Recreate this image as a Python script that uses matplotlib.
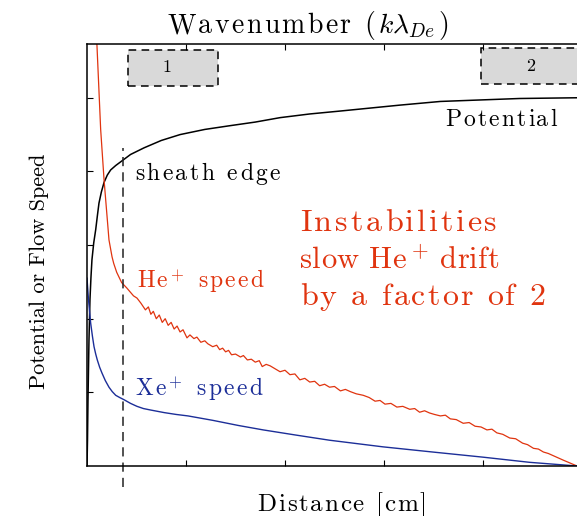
import matplotlib
matplotlib.use("Agg")
import matplotlib.pyplot as plt
from matplotlib.patches import Rectangle
from matplotlib.font_manager import findfont, FontProperties
from matplotlib.ft2font import FT2Font
from matplotlib.transforms import offset_copy

plt.rcParams['font.family'] = ['cmr10', 'DejaVu Serif']
plt.rcParams['mathtext.fontset'] = 'cm'
plt.rcParams['axes.formatter.use_mathtext'] = True

# distance (cm) vs potential
pot_x = [0.000, 0.005, 0.010, 0.020, 0.030, 0.040, 0.050, 0.068, 0.088, 0.105,
         0.121, 0.145, 0.172, 0.205, 0.239, 0.290, 0.340, 0.440, 0.576, 0.750,
         0.940, 1.190, 1.440, 1.700, 1.950, 2.250, 2.560, 2.860, 3.160, 3.570,
         3.970, 4.370, 4.950]
pot_y = [0.00, 0.35, 0.90, 1.71, 2.26, 2.56, 2.80, 3.03, 3.21, 3.40,
         3.57, 3.72, 3.85, 3.95, 4.02, 4.08, 4.13, 4.23, 4.32, 4.42,
         4.50, 4.57, 4.62, 4.67, 4.73, 4.78, 4.82, 4.86, 4.90, 4.95,
         4.97, 4.99, 5.00]

# Xe+ flow speed
xe_x = [0.000, 0.015, 0.037, 0.055, 0.071, 0.088, 0.104, 0.128, 0.152, 0.185,
        0.222, 0.255, 0.290, 0.330, 0.374, 0.440, 0.505, 0.570, 0.643, 0.780,
        0.900, 1.020, 1.270, 1.530, 1.780, 2.110, 2.450, 2.990, 3.490, 4.000,
        4.470, 4.950]
xe_y = [2.55, 2.26, 1.94, 1.76, 1.62, 1.52, 1.44, 1.34, 1.26, 1.16,
        1.07, 1.01, 0.96, 0.93, 0.90, 0.85, 0.81, 0.78, 0.76, 0.725,
        0.70, 0.68, 0.62, 0.55, 0.49, 0.42, 0.35, 0.26, 0.19, 0.12,
        0.05, 0.00]

# He+ flow speed (noisy)
he_x = [0.090, 0.100, 0.138, 0.172, 0.222, 0.253, 0.270, 0.300, 0.350, 0.400,
        0.470, 0.505, 0.545, 0.590, 0.620, 0.645, 0.670, 0.700, 0.730, 0.760,
        0.790, 0.820, 0.850, 0.880, 0.910, 0.940, 0.970, 1.010, 1.040, 1.080,
        1.110, 1.150, 1.190, 1.220, 1.270, 1.310, 1.340, 1.370, 1.400, 1.430,
        1.460, 1.500, 1.550, 1.580, 1.620, 1.660, 1.700, 1.740, 1.770, 1.810,
        1.850, 1.900, 1.950, 2.000, 2.050, 2.100, 2.150, 2.200, 2.250, 2.300,
        2.350, 2.400, 2.450, 2.500, 2.560, 2.610, 2.660, 2.720, 2.790, 2.850,
        2.910, 2.960, 3.010, 3.070, 3.130, 3.190, 3.260, 3.310, 3.360, 3.410,
        3.460, 3.510, 3.570, 3.620, 3.670, 3.730, 3.800, 3.860, 3.920, 3.980,
        4.040, 4.090, 4.140, 4.200, 4.270, 4.330, 4.400, 4.450, 4.510, 4.560,
        4.610, 4.660, 4.710, 4.760, 4.810, 4.880, 4.950]
he_y = [6.20, 5.73, 4.57, 3.89, 3.07, 2.84, 2.75, 2.63, 2.49, 2.42,
        2.31, 2.28, 2.21, 2.12, 2.16, 2.06, 2.10, 2.00, 2.05, 1.95,
        2.00, 1.91, 1.95, 1.86, 1.90, 1.82, 1.85, 1.74, 1.78, 1.73,
        1.75, 1.68, 1.70, 1.66, 1.62, 1.64, 1.58, 1.60, 1.55, 1.57,
        1.51, 1.52, 1.48, 1.50, 1.44, 1.45, 1.41, 1.43, 1.35, 1.38,
        1.36, 1.32, 1.28, 1.30, 1.24, 1.25, 1.17, 1.19, 1.14, 1.15,
        1.09, 1.11, 1.07, 1.08, 1.02, 1.04, 1.01, 0.98, 0.96, 0.93,
        0.88, 0.89, 0.84, 0.85, 0.80, 0.81, 0.77, 0.78, 0.73, 0.75,
        0.72, 0.70, 0.68, 0.69, 0.64, 0.63, 0.58, 0.59, 0.54, 0.53,
        0.49, 0.50, 0.45, 0.43, 0.38, 0.37, 0.31, 0.29, 0.24, 0.23,
        0.19, 0.17, 0.14, 0.11, 0.08, 0.04, 0.00]

sheath_x = 0.36
x_ticks = [1, 2, 3, 4]
y_ticks = [1, 2, 3, 4, 5]

red = '#e0340f'
blue = '#1c2e98'

fig = plt.figure(figsize=(5.77, 5.16), dpi=100)
ax = fig.add_axes([87/577, 1 - 466/516, (581 - 87)/577, (466 - 44)/516])
renderer = fig.canvas.get_renderer()
cm_path = findfont(FontProperties(family='cmr10'))


def split_pieces(s):
    # single characters, but keep $...$ math chunks together
    out, i = [], 0
    while i < len(s):
        if s[i] == '$':
            j = s.index('$', i + 1)
            out.append(s[i:j + 1])
            i = j + 1
        else:
            out.append(s[i])
            i += 1
    return out


def advance(p, size):
    if p == ' ':
        return 0.333 * size * fig.dpi / 72
    if p.startswith('$'):
        t = fig.text(0, 0, p, fontsize=size)
        w = t.get_window_extent(renderer).width
        t.remove()
        return w + 0.05 * size
    f = FT2Font(cm_path)
    f.set_size(size, fig.dpi)
    return f.load_char(ord(p)).linearHoriAdvance / 65536


# old usetex output had loose letter spacing, so space letters out to a width
def spaced(x, y, s, size, width, transform, ha='left', color='black'):
    pieces = split_pieces(s)
    advs = [advance(p, size) for p in pieces]
    # no extra gap before a superscript
    gaps = [0 if p.startswith('$^') else 1 for p in pieces[1:]]
    track = (width - sum(advs)) / max(sum(gaps), 1)
    pos = 0 if ha == 'left' else -width / 2
    for k, (p, a) in enumerate(zip(pieces, advs)):
        if p != ' ':
            tr = offset_copy(transform, fig=fig, x=pos, y=0, units='dots')
            fig.text(x, y, p, transform=tr, fontsize=size, color=color,
                     ha='left', va='baseline')
        pos += a
        if k < len(gaps):
            pos += track * gaps[k]


ax.plot(pot_x, pot_y, color='black', lw=1.1)
ax.plot(he_x, he_y, color=red, lw=0.9)
ax.plot(xe_x, xe_y, color=blue, lw=1.0)

ax.plot([sheath_x, sheath_x], [-0.29, 4.32], color='#222222', lw=1.1,
        dashes=(6, 4), clip_on=False)

ax.set_xlim(0, 4.99)
ax.set_ylim(0, 5.73)
ax.set_xticks(x_ticks)
ax.set_yticks(y_ticks)
ax.set_xticklabels([])
ax.set_yticklabels([])
ax.tick_params(direction='in', length=4, width=0.8, top=True, right=False)
ax.spines['right'].set_visible(False)
for s in ['left', 'bottom', 'top']:
    ax.spines[s].set_linewidth(1.1)

# boxes
ax.add_patch(Rectangle((0.414, 5.16), 0.909, 0.49, facecolor='#d9d9d9',
                       edgecolor='black', lw=1.1, linestyle=(0, (5, 3.5))))
ax.add_patch(Rectangle((3.98, 5.19), 1.01, 0.49, facecolor='#d9d9d9',
                       edgecolor='black', lw=1.1, linestyle=(0, (5, 3.5)),
                       clip_on=False))
ax.text(0.81, 5.41, '1', ha='center', va='center', fontsize=13)
ax.text(4.48, 5.43, '2', ha='center', va='center', fontsize=13)

td = ax.transData
spaced(3.616, 4.61, 'Potential', 17, 112, td)
spaced(0.485, 3.89, 'sheath edge', 17, 145, td)
spaced(0.505, 2.43, 'He$^+$ speed', 17, 126, td, color=red)
spaced(0.485, 0.965, 'Xe$^+$ speed', 17, 127, td, color=blue)

spaced(2.152, 3.19, 'Instabilities', 23, 197, td, color=red)
spaced(2.152, 2.69, 'slow He$^+$ drift', 22, 199, td, color=red)
spaced(2.152, 2.19, 'by a factor of 2', 23, 245, td, color=red)

tf = fig.transFigure
spaced(308/577, 1 - 33/516, r'Wavenumber ($k\lambda_{De}$)', 20, 282, tf,
       ha='center')
spaced(342/577, 1 - 511/516, 'Distance [cm]', 18, 169, tf, ha='center')
fig.text(45/577, 1 - 271.5/516, 'Potential or Flow Speed', fontsize=16,
         ha='center', va='baseline', rotation=90, rotation_mode='anchor')

fig.savefig('out.png', dpi=100)
